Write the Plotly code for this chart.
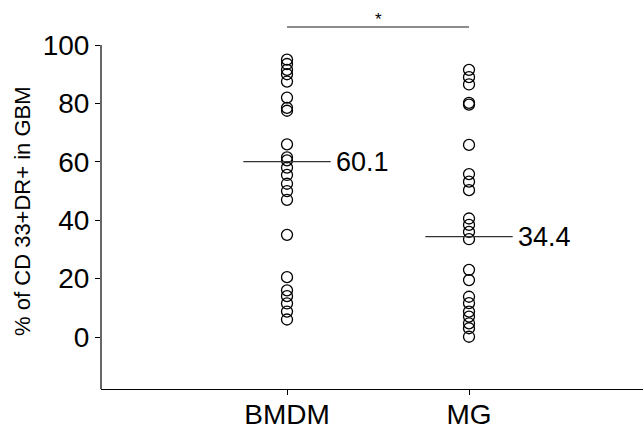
import plotly.graph_objects as go

categories = ["BMDM", "MG"]
bmdm_values = [95, 93.5, 91.5, 90, 87.5, 82, 78.5, 77.5, 66, 61.5, 60.5, 58, 55.5,
               52.5, 50, 47, 35, 20.5, 16, 14, 11.5, 8.7, 6]
mg_values = [91.5, 89, 86.5, 80.2, 79.6, 65.8, 55.8, 53.2, 50.3, 40.6, 38.4, 36, 33.5,
             23, 19.5, 13.8, 11.6, 8.7, 7, 4.7, 3, 0.1]
group_means = [60.1, 34.4]
mean_labels = ["60.1", "34.4"]
y_ticks = [0, 20, 40, 60, 80, 100]
y_title = "% of CD 33+DR+ in GBM"
significance = "*"

FONT = "Liberation Sans, Arial, sans-serif"
YMIN, YMAX = -17.8, 112

fig = go.Figure()
for i, vals in enumerate([bmdm_values, mg_values]):
    fig.add_trace(go.Scatter(
        x=[i] * len(vals), y=vals, mode="markers",
        marker=dict(symbol="circle-open", size=11, color="black",
                    line=dict(width=1.3, color="black")),
        showlegend=False, hoverinfo="y"))
    fig.add_shape(type="line", xref="x", yref="y",
                  x0=i - 0.24, x1=i + 0.24, y0=group_means[i], y1=group_means[i],
                  line=dict(color="#333333", width=1.3))
    fig.add_annotation(x=i + 0.26, y=group_means[i], xref="x", yref="y",
                       text=mean_labels[i], showarrow=False, xanchor="left",
                       yanchor="middle",
                       font=dict(family=FONT, size=27, color="black"))

# significance bar
fig.add_shape(type="line", xref="x", yref="y", x0=0, x1=1, y0=106.2, y1=106.2,
              line=dict(color="#666666", width=1.5))
fig.add_annotation(x=0.5, y=108.9, xref="x", yref="y", text=significance,
                   showarrow=False, yanchor="middle",
                   font=dict(family=FONT, size=17, color="black"))

# y axis line stopping at 100
fig.add_shape(type="line", xref="paper", yref="y", x0=0, x1=0, y0=YMIN, y1=100,
              line=dict(color="black", width=1.2))

# y title
fig.add_annotation(x=-0.145, y=43, xref="paper", yref="y", text=y_title,
                   showarrow=False, textangle=-90, xanchor="center",
                   yanchor="middle",
                   font=dict(family=FONT, size=22, color="black"))

fig.update_layout(
    width=643, height=429,
    margin=dict(l=101, r=0, t=10, b=40),
    paper_bgcolor="white", plot_bgcolor="white",
    font=dict(family=FONT, color="black"),
    xaxis=dict(range=[-1.022, 1.956], tickvals=[0, 1], ticktext=categories,
               automargin=False, ticklabelstandoff=-5,
               showgrid=False, zeroline=False, showline=True, linecolor="black",
               linewidth=1.2, ticks="outside", ticklen=5, tickcolor="black",
               tickfont=dict(family=FONT, size=28, color="black")),
    yaxis=dict(range=[YMIN, YMAX], tickvals=y_ticks, showgrid=False,
               automargin=False,
               zeroline=False, showline=False, ticks="outside", ticklen=5,
               tickcolor="black",
               tickfont=dict(family=FONT, size=28, color="black")),
)

fig.write_html("out.html")
